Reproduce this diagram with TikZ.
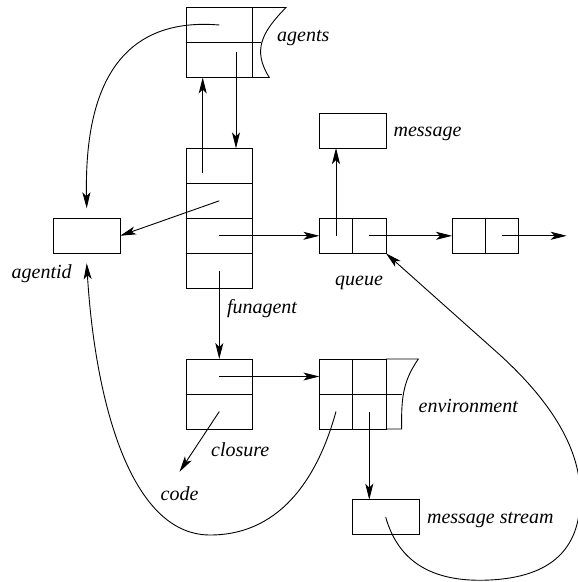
\documentclass[tikz,border=0pt]{standalone}
\usepackage{fontspec}
\setmainfont{Liberation Serif}
\usepackage{tikz}
\usetikzlibrary{positioning,arrows.meta}
\tikzset{>={Stealth[length=16pt,width=8pt,inset=4pt]}}
\tikzset{cell/.style={shape=rectangle,draw,inner sep=0pt,outer sep=0pt,minimum width=33.3pt,minimum height=35pt},
  wcell/.style={cell,minimum width=66.7pt},
  lbl/.style={font=\fontsize{20}{24}\selectfont\itshape,inner sep=0pt}}

\begin{document}
\begin{tikzpicture}[line width=0.9pt]
\useasboundingbox (0pt,0pt) rectangle (578pt,-582pt);

% agents
\path (219.3pt,-25pt) node [wcell] (ag1) {};
\node [wcell,below=0pt of ag1] (ag2) {};
\draw (ag1.north east) -- (286pt,-7.5pt) .. controls (262pt,-32pt) and (252pt,-50pt) .. (269.3pt,-77.5pt) -- (ag2.south east);
\draw (ag1.south east) -- (261pt,-42.5pt);
\path (303.3pt,-38pt) node [lbl] (agentslbl) {agents};

% funagent
\path (219.3pt,-165.8pt) node [wcell] (fa1) {};
\node [wcell,below=0pt of fa1] (fa2) {};
\node [wcell,below=0pt of fa2] (fa3) {};
\node [wcell,below=0pt of fa3] (fa4) {};
\path (262pt,-309pt) node [lbl] (funagentlbl) {funagent};

% agentid
\path (86.7pt,-235.8pt) node [wcell] (agentid) {};
\path (41.7pt,-273.5pt) node [lbl] (agentidlbl) {agentid};

% message and queue
\path (352.7pt,-130.5pt) node [wcell] (message) {};
\path (427.5pt,-134pt) node [lbl] (messagelbl) {message};
\path (336pt,-235.8pt) node [cell] (q1) {};
\node [cell,right=0pt of q1] (q2) {};
\path (468.7pt,-235.8pt) node [cell] (nq1) {};
\node [cell,right=0pt of nq1] (nq2) {};
\coordinate (qend) at (566.7pt,-235.8pt);
\path (359pt,-283pt) node [lbl] (queuelbl) {queue};

% closure
\path (219.3pt,-376.5pt) node [wcell] (cl1) {};
\node [wcell,below=0pt of cl1] (cl2) {};
\path (240.3pt,-450pt) node [lbl] (closurelbl) {closure};
\path (179.5pt,-493.3pt) node [lbl] (code) {code};

% environment
\path (336pt,-376.5pt) node [cell] (env11) {};
\node [cell,right=0pt of env11] (env12) {};
\node [cell,below=0pt of env11] (env21) {};
\node [cell,right=0pt of env21] (env22) {};
\draw (env12.north east) -- (418.3pt,-359pt) .. controls (404pt,-380pt) and (401pt,-395pt) .. (401.7pt,-429pt) -- (env22.south east);
\draw (env22.north east) -- (402.2pt,-394pt);
\path (468.3pt,-406pt) node [lbl] (environmentlbl) {environment};

% message stream
\path (385.7pt,-517.2pt) node [wcell] (mstream) {};
\path (490.3pt,-520pt) node [lbl] (mstreamlbl) {message stream};

% pointers
\draw[->] ([xshift=-16.6pt,yshift=-7pt]fa1.center) -- ([xshift=-16.6pt]ag2.south);
\draw[->] ([xshift=16.7pt,yshift=8pt]ag2.center) -- ([xshift=16.7pt]fa1.north);
\draw[->] (ag1.center) .. controls (100pt,-15pt) and (85pt,-120pt) .. ([yshift=10pt]agentid.north);
\draw[->] (fa2.center) -- (agentid.east);
\draw[->] (fa3.center) -- (q1.west);
\draw[->] (fa4.center) -- (cl1.north);
\draw[->] (q1.center) -- (q1.center |- message.south);
\draw[->] (q2.center) -- (nq1.west);
\draw[->] (nq2.center) -- (qend);
\draw[->] (cl1.center) -- (env11.west);
\draw[->] (cl2.center) -- ([yshift=14pt]code.north);
\draw[->] (env22.center) -- (env22.center |- mstream.north);
\draw[->] (env21.center) .. controls (320pt,-470pt) and (285pt,-535pt) .. (210pt,-535pt) .. controls (130pt,-535pt) and (95pt,-400pt) .. ([yshift=-10pt]agentid.south);
\draw[->] (mstream.center) .. controls (398pt,-560pt) and (430pt,-583pt) .. (490pt,-580pt) .. controls (550pt,-577pt) and (583pt,-550pt) .. (580pt,-490pt) .. controls (578pt,-430pt) and (525pt,-378pt) .. (500pt,-355pt) -- (q2.south east);

\end{tikzpicture}
\end{document}
